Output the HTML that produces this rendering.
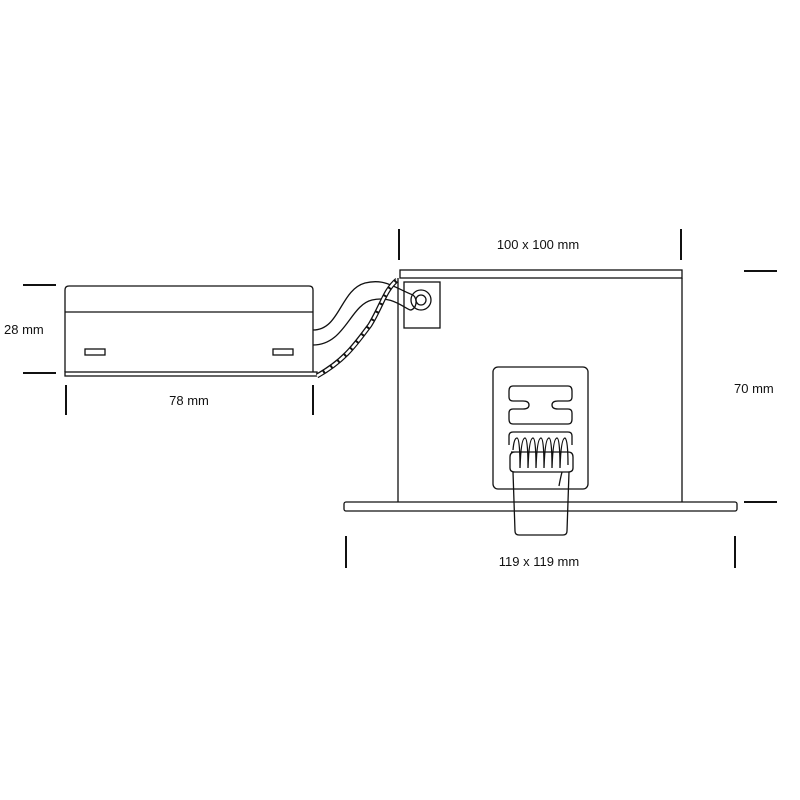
<!DOCTYPE html>
<html><head><meta charset="utf-8"><style>
html,body{margin:0;padding:0;background:#fff;}
svg{display:block}
text{font-family:"Liberation Sans",sans-serif;font-size:13px;fill:#111}
</style></head><body>
<svg width="800" height="800" viewBox="0 0 800 800" xmlns="http://www.w3.org/2000/svg">
<g fill="none" stroke="#111" stroke-width="1.3">
  <path d="M65,372 V290 Q65,286 69,286 H309 Q313,286 313,290 V372"/>
  <line x1="65" y1="312" x2="313" y2="312"/>
  <rect x="65" y="372" width="252" height="4"/>
  <rect x="85" y="349" width="20" height="6"/>
  <rect x="273" y="349" width="20" height="6"/>
  <path d="M313,330 C340,330 340,290 365,283 C385,278 395,288 413,295"/>
  <path d="M313,345 C345,345 350,305 372,300 C390,296 400,305 410,310"/>
  <path d="M413,295 A6,8 0 0 1 410,310"/>
  <path d="M317,376 C345,360 355,345 370,325 C382,305 385,290 397,280" stroke-width="5"/>
  <path d="M317,376 C345,360 355,345 370,325 C382,305 385,290 397,280" stroke="#fff" stroke-width="2.5" stroke-dasharray="7,2"/>
  <rect x="400" y="270" width="282" height="8"/>
  <line x1="398" y1="278" x2="398" y2="502"/>
  <line x1="682" y1="278" x2="682" y2="502"/>
  <rect x="404" y="282" width="36" height="46"/>
  <circle cx="421" cy="300" r="10"/>
  <circle cx="421" cy="300" r="5"/>
  <rect x="493" y="367" width="95" height="122" rx="5"/>
  <path d="M513,386 H568 Q572,386 572,391 V397 Q572,401 568,401 H558 Q552,401 552,405 Q552,409 558,409 H568 Q572,409 572,413 V419 Q572,424 568,424 H513 Q509,424 509,419 V413 Q509,409 513,409 H523 Q529,409 529,405 Q529,401 523,401 H513 Q509,401 509,397 V391 Q509,386 513,386 Z"/>
  <path d="M513,432 H568 Q572,432 572,436 V445 M509,445 V436 Q509,432 513,432"/>
  <path d="M513,450 Q514,438 517,438 Q520,438 520,468 Q521,438 525,438 Q528,438 528,468 Q529,438 533,438 Q536,438 536,468 Q537,438 541,438 Q544,438 544,468 Q545,438 549,438 Q552,438 552,468 Q553,438 557,438 Q560,438 560,468 Q561,438 565,438 Q568,440 568,465"/>
  <path d="M511,452 H568 Q573,452 573,457 V468 Q573,472 568,472 H515 Q510,472 510,468 V457 Q510,452 515,452"/>
  <path d="M562,472 Q560,480 559,486"/>
  <path d="M513,472 L515,531 Q515,535 519,535 H563 Q567,535 567,531 L569,472"/>
  <rect x="344" y="502" width="393" height="9" rx="2"/>
</g>
<g stroke="#111" stroke-width="2">
  <line x1="23" y1="285" x2="56" y2="285"/>
  <line x1="23" y1="373" x2="56" y2="373"/>
  <line x1="66" y1="385" x2="66" y2="415"/>
  <line x1="313" y1="385" x2="313" y2="415"/>
  <line x1="399" y1="229" x2="399" y2="260"/>
  <line x1="681" y1="229" x2="681" y2="260"/>
  <line x1="744" y1="271" x2="777" y2="271"/>
  <line x1="744" y1="502" x2="777" y2="502"/>
  <line x1="346" y1="536" x2="346" y2="568"/>
  <line x1="735" y1="536" x2="735" y2="568"/>
</g>
<text x="4" y="334">28 mm</text>
<text x="189" y="405" text-anchor="middle">78 mm</text>
<text x="538" y="249" text-anchor="middle">100 x 100 mm</text>
<text x="734" y="393">70 mm</text>
<text x="539" y="566" text-anchor="middle">119 x 119 mm</text>
</svg>
</body></html>
